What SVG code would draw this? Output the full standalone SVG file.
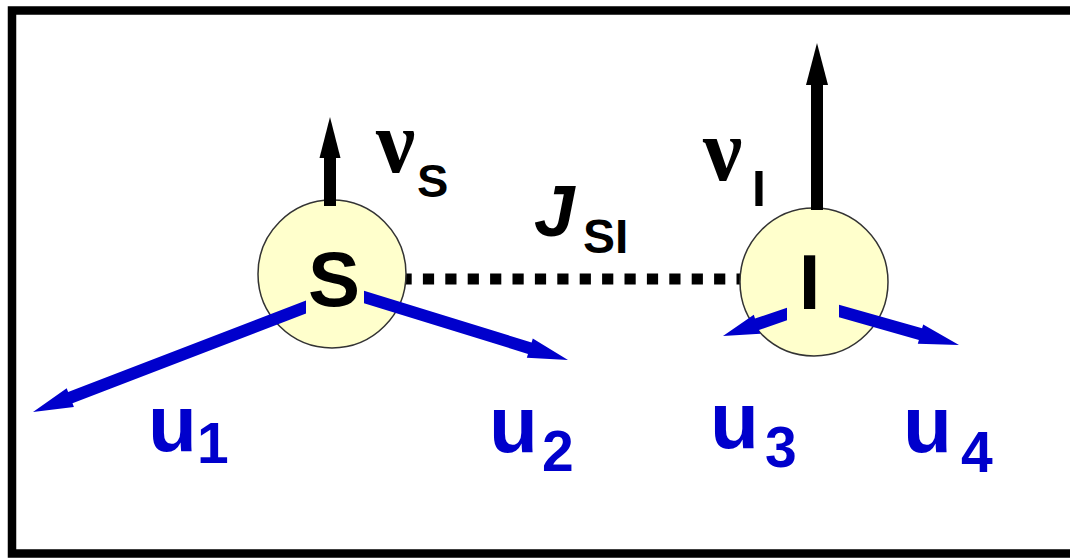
<svg xmlns="http://www.w3.org/2000/svg" width="1070" height="558" viewBox="0 0 1070 558">
<style>
.frame{fill:none;stroke:#000;stroke-width:8.5}
.node{fill:#ffffcc;stroke:#333;stroke-width:1.5}
.big{font-family:"Liberation Sans",Arial,sans-serif;font-weight:bold;fill:#000}
.nu{font-family:"Liberation Serif","Times New Roman",serif;font-weight:bold;fill:#000}
.lab{font-family:"Liberation Sans",Arial,sans-serif;font-weight:bold;fill:#0000cc}
.blk{fill:#000}
.blu{fill:#0000cc}
.coupling{stroke:#000;stroke-width:11;stroke-dasharray:11.2 11.2;fill:none}
</style>
<rect x="0" y="0" width="1070" height="558" fill="#fff"/>
<rect class="frame" x="12" y="10.5" width="1080" height="543"/>
<g id="connectors">
<line class="coupling" x1="400.5" y1="279" x2="745" y2="279"/>
</g>
<g id="node-S">
<circle class="node" cx="332" cy="274" r="74"/>
<text class="big" x="334" y="306" font-size="78" text-anchor="middle">S</text>
</g>
<g id="node-I">
<circle class="node" cx="814" cy="282" r="74"/>
<text class="big" x="809.5" y="309" font-size="78" text-anchor="middle">I</text>
</g>
<g id="arrow-nuS">
<rect class="blk" x="324" y="156" width="12" height="50"/>
<polygon class="blk" points="319.5,158 330,117 340.5,158"/>
</g>
<g id="arrow-nuI">
<rect class="blk" x="811" y="83" width="12" height="127"/>
<polygon class="blk" points="806,85 817,43 828,85"/>
</g>
<g id="label-nuS">
<text class="nu" x="376" y="172" font-size="88">ν</text>
<text class="big" x="417" y="197" font-size="47">S</text>
</g>
<g id="label-nuI">
<text class="nu" x="703" y="180" font-size="88">ν</text>
<text class="big" x="752" y="206" font-size="50">I</text>
</g>
<g id="label-J">
<text class="big" x="534" y="236" font-size="73" font-style="italic">J</text>
<text class="big" x="583" y="253" font-size="48">SI</text>
</g>
<g id="u1">
<polygon class="blu" points="306,300.6 68.1,392 66.7,388.3 33,412 73.9,406.9 72.5,403.2 306,313.4"/>
<text class="lab" x="148" y="451" font-size="80">u</text>
<text class="lab" x="197" y="463" font-size="57">1</text>
</g>
<g id="u2">
<polygon class="blu" points="364,290.7 531.6,342.5 532.8,338.6 568,360 526.8,357.8 528,353.9 364,303.3"/>
<text class="lab" x="489" y="452" font-size="80">u</text>
<text class="lab" x="542" y="471" font-size="57">2</text>
</g>
<g id="u3">
<polygon class="blu" points="787,307.7 755,318.6 753.8,314.8 723,336 760.3,333.8 759,330 787,320.3"/>
<text class="lab" x="710" y="448" font-size="80">u</text>
<text class="lab" x="765" y="467" font-size="57">3</text>
</g>
<g id="u4">
<polygon class="blu" points="839,304.8 922.1,328.3 923.2,324.5 959,345 917.8,343.7 918.9,339.9 839,317.2"/>
<text class="lab" x="903" y="452" font-size="80">u</text>
<text class="lab" x="961" y="472" font-size="57">4</text>
</g>
</svg>
